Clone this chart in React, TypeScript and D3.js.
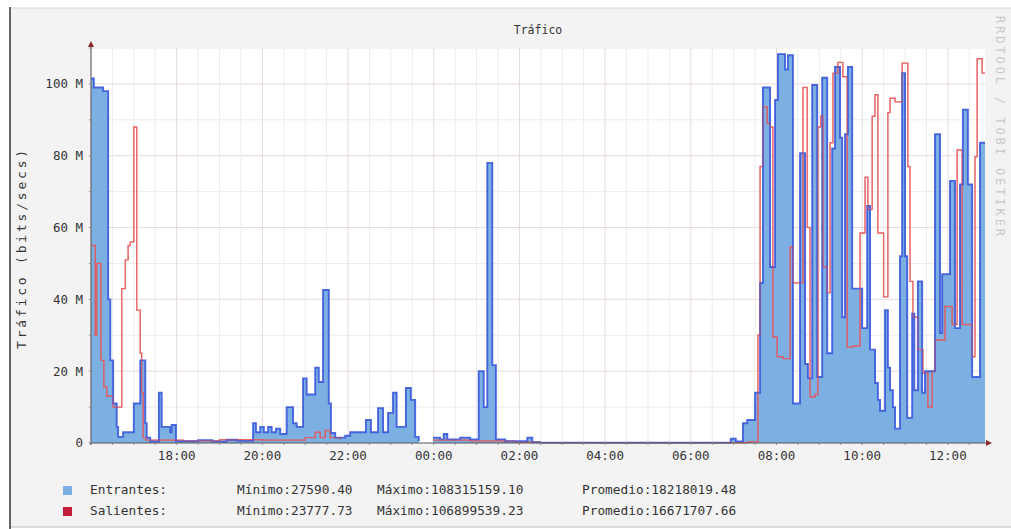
import React from "react";
import * as d3 from "d3";

// ---- data (time "HH:MM", value in Mbit/s); times before 16:00 belong to the next day ----
const startTime = "16:00";
const endTime = "12:52";

const entrantes: [string, number | null][] = [
  ["16:00", 101.5], ["16:04", 99], ["16:17", 98], ["16:24", 40], ["16:27", 23], ["16:31", 11],
  ["16:36", 4.5], ["16:38", 1.7], ["16:45", 3], ["17:00", 11], ["17:09", 23], ["17:16", 5.5],
  ["17:18", 1.5], ["17:23", 0.4], ["17:35", 14], ["17:39", 4.5], ["17:51", 3], ["17:53", 5],
  ["17:59", 0.5], ["18:30", 0.8], ["18:50", 0.4], ["19:10", 0.9], ["19:25", 0.6],
  ["19:47", 5.5], ["19:51", 3], ["19:57", 4.5], ["20:02", 3], ["20:08", 4.5], ["20:13", 3],
  ["20:19", 4], ["20:25", 2.5], ["20:34", 10], ["20:43", 5.5], ["20:48", 4.5], ["20:57", 18],
  ["21:02", 13.5], ["21:14", 21], ["21:19", 17], ["21:25", 42.6], ["21:33", 11], ["21:36", 2.8],
  ["21:42", 1.5], ["21:56", 2], ["22:03", 3], ["22:25", 6.4], ["22:32", 3], ["22:42", 9.7],
  ["22:49", 3], ["22:56", 8.4], ["23:03", 14], ["23:08", 4.5], ["23:21", 15.3], ["23:28", 12],
  ["23:34", 1.7], ["23:39", 0.5], ["23:42", null], ["23:59", 1.5], ["00:09", 1], ["00:14", 2.5],
  ["00:19", 1], ["00:37", 1.5], ["00:51", 1], ["01:03", 20], ["01:10", 10], ["01:15", 78],
  ["01:22", 21.7], ["01:27", 1], ["01:40", 0.5], ["02:11", 1.5], ["02:18", 0.2], ["02:29", 0.1],
  ["06:56", 1.2], ["07:03", 0.4], ["07:13", 5.5], ["07:19", 6.4], ["07:30", 14], ["07:37", 44.6],
  ["07:41", 99], ["07:51", 49], ["07:58", 95.5], ["08:02", 108.3], ["08:12", 104], ["08:16", 108],
  ["08:23", 11], ["08:33", 80.7], ["08:40", 22], ["08:44", 18], ["08:50", 99.7], ["08:57", 18.4],
  ["09:04", 101.7], ["09:11", 25], ["09:18", 82], ["09:22", 104.7], ["09:29", 85], ["09:32", 35],
  ["09:36", 86], ["09:40", 104.7], ["09:46", 43], ["10:00", 32], ["10:07", 66], ["10:11", 26],
  ["10:18", 16.7], ["10:22", 12], ["10:25", 9], ["10:32", 37], ["10:36", 21], ["10:39", 14.7],
  ["10:43", 10], ["10:46", 4], ["10:53", 52], ["10:56", 103], ["11:00", 52], ["11:03", 7],
  ["11:10", 36], ["11:13", 14.7], ["11:18", 45], ["11:24", 14], ["11:28", 20], ["11:42", 86],
  ["11:49", 30.6], ["11:52", 47], ["12:03", 73], ["12:10", 32], ["12:17", 72], ["12:21", 92.8],
  ["12:28", 72], ["12:34", 18.4], ["12:45", 83.6],
];

const salientes: [string, number | null][] = [
  ["16:00", 55], ["16:06", 30], ["16:08", 50], ["16:14", 23], ["16:18", 15.6], ["16:22", 13],
  ["16:31", 10], ["16:43", 43], ["16:48", 51], ["16:52", 55], ["16:55", 56], ["17:00", 88],
  ["17:04", 37], ["17:09", 25], ["17:11", 14], ["17:13", 1.5], ["17:17", 0.8], ["18:10", 0.6],
  ["19:00", 0.9], ["20:00", 0.8], ["21:00", 1.5], ["21:14", 3], ["21:21", 1.5], ["21:28", 3.5],
  ["21:35", 1.5], ["21:49", 1], ["23:42", null], ["23:59", 0.8], ["00:51", 0.6], ["01:40", 0.5],
  ["01:55", 0.2], ["02:29", 0.1], ["07:20", 0.3], ["07:34", 30], ["07:37", 77], ["07:41", 93.6],
  ["07:47", 89], ["07:51", 88], ["07:55", 29.5], ["08:01", 24], ["08:09", 23.5], ["08:19", 54.6],
  ["08:23", 44.6], ["08:37", 99], ["08:43", 60], ["08:47", 12.8], ["08:54", 13.5], ["08:58", 88],
  ["09:02", 91], ["09:05", 49], ["09:11", 41.8], ["09:15", 83.6], ["09:19", 103], ["09:26", 106],
  ["09:33", 102], ["09:39", 26.7], ["09:47", 27], ["09:57", 58.5], ["10:04", 74], ["10:08", 65],
  ["10:14", 91], ["10:18", 97], ["10:22", 58.5], ["10:30", 40.7], ["10:36", 92], ["10:39", 96],
  ["10:46", 95], ["10:56", 105.8], ["11:04", 77], ["11:07", 45], ["11:11", 35], ["11:18", 26],
  ["11:25", 19.5], ["11:32", 10], ["11:38", 20], ["11:42", 28.7], ["11:56", 38], ["12:06", 33],
  ["12:13", 81.6], ["12:20", 33], ["12:34", 24], ["12:38", 79.7], ["12:41", 107], ["12:48", 103],
];

const yTicks = [0, 20, 40, 60, 80, 100];
const yTickLabels = ["0", "20 M", "40 M", "60 M", "80 M", "100 M"];
const xTickLabels = ["18:00", "20:00", "22:00", "00:00", "02:00", "04:00", "06:00", "08:00", "10:00", "12:00"];

const legendRows = [
  { name: "Entrantes:", min: "Mínimo:27590.40", max: "Máximo:108315159.10", avg: "Promedio:18218019.48" },
  { name: "Salientes:", min: "Mínimo:23777.73", max: "Máximo:106899539.23", avg: "Promedio:16671707.66" },
];

const title = "Tráfico";
const yTitle = "Tráfico (bits/secs)";
const watermark = "RRDTOOL / TOBI OETIKER";

// ---- helpers ----
const parseT = (s: string): Date => {
  const [h, m] = s.split(":").map(Number);
  let mins = h * 60 + m;
  if (mins < 16 * 60) mins += 1440;
  return new Date(2024, 0, 1, 0, mins);
};

type Pt = { t: Date; v: number | null };
const toSeries = (arr: [string, number | null][]): Pt[] => {
  const pts = arr.map(([t, v]) => ({ t: parseT(t), v }));
  pts.push({ t: parseT(endTime), v: pts[pts.length - 1].v });
  return pts;
};

const MONO = "'DejaVu Sans Mono', monospace";

export default function App() {
  const W = 1011, H = 529;
  const left = 91, right = 985, top = 48, bottom = 443;
  const x = d3.scaleTime().domain([parseT(startTime), parseT(endTime)]).range([left, right]);
  const y = d3.scaleLinear().domain([0, 110]).range([bottom, top]);

  const inS = toSeries(entrantes);
  const outS = toSeries(salientes);

  const area = d3.area<Pt>()
    .defined((d) => d.v !== null)
    .x((d) => x(d.t))
    .y0(y(0))
    .y1((d) => y(d.v as number))
    .curve(d3.curveStepAfter);
  const line = d3.line<Pt>()
    .defined((d) => d.v !== null)
    .x((d) => x(d.t))
    .y((d) => y(d.v as number))
    .curve(d3.curveStepAfter);

  const minorX = d3.timeMinute.every(30)!.range(parseT(startTime), parseT(endTime));
  const majorX = xTickLabels.map(parseT);
  const minorY = d3.range(10, 111, 10);

  return (
    <svg width={W} height={H} style={{ position: "absolute", left: 0, top: 0, background: "#fff" }}>
      {/* frame */}
      <rect x={10} y={8} width={W - 10} height={519} fill="#f3f3f3" />
      <line x1={10} y1={8} x2={W} y2={8} stroke="#d8d8d8" />
      <line x1={10} y1={527} x2={W} y2={527} stroke="#bdbdbd" />
      <line x1={10} y1={7} x2={10} y2={H} stroke="#333" strokeWidth={1.5} />

      {/* plot background */}
      <rect x={left} y={top} width={right - left} height={bottom - top} fill="#ffffff" />

      {/* grid */}
      {minorY.map((v) => (
        <line key={"gy" + v} x1={left} x2={right} y1={y(v)} y2={y(v)}
          stroke={v % 20 === 0 ? "#ead9d9" : "#ececec"} strokeWidth={1} />
      ))}
      {minorX.map((t, i) => (
        <line key={"gx" + i} x1={x(t)} x2={x(t)} y1={top} y2={bottom}
          stroke={t.getMinutes() === 0 && t.getHours() % 2 === 0 ? "#e3dada" : "#ececec"} strokeWidth={1} />
      ))}

      {/* data */}
      <path d={area(inS) || ""} fill="#7cb0e2" />
      <path d={line(outS) || ""} fill="none" stroke="#e8585a" strokeWidth={1.4} strokeOpacity={0.85} />
      <path d={line(inS) || ""} fill="none" stroke="#3a58dc" strokeWidth={1.9} strokeOpacity={0.9} />
      <path d={line(outS) || ""} fill="none" stroke="#e8585a" strokeWidth={1} strokeOpacity={0.55} />

      {/* axes */}
      <line x1={left} x2={left} y1={bottom + 2} y2={top - 2} stroke="#555" strokeWidth={1} />
      <path d={`M${left - 3},${top - 1} L${left + 3},${top - 1} L${left},${top - 7} Z`} fill="#8a2a2a" />
      <line x1={left - 2} x2={right + 2} y1={bottom} y2={bottom} stroke="#555" strokeWidth={1} />
      <path d={`M${right + 1},${bottom - 3} L${right + 1},${bottom + 3} L${right + 7},${bottom} Z`} fill="#8a2a2a" />
      {minorX.map((t, i) => (
        <line key={"tx" + i} x1={x(t)} x2={x(t)} y1={bottom - 1} y2={bottom + 2} stroke="#888" />
      ))}
      {minorY.map((v) => (
        <line key={"ty" + v} x1={left - 2} x2={left + 1} y1={y(v)} y2={y(v)} stroke="#888" />
      ))}

      {/* y labels */}
      {yTicks.map((v, i) => (
        <text key={"yl" + v} x={83} y={y(v)} dy="0.35em" textAnchor="end"
          fontFamily={MONO} fontSize={12.5} fill="#333">{yTickLabels[i]}</text>
      ))}
      {/* x labels */}
      {majorX.map((t, i) => (
        <text key={"xl" + i} x={x(t)} y={460} textAnchor="middle"
          fontFamily={MONO} fontSize={12.5} fill="#333">{xTickLabels[i]}</text>
      ))}

      {/* titles */}
      <text x={(left + right) / 2} y={34} textAnchor="middle" fontFamily={MONO} fontSize={11.5} fill="#333">{title}</text>
      <text transform={`translate(26,248) rotate(-90)`} textAnchor="middle" fontFamily={MONO}
        fontSize={13} letterSpacing={2.8} fill="#333">{yTitle}</text>
      <text transform={`translate(996,16) rotate(90)`} textAnchor="start" fontFamily={MONO}
        fontSize={12} textLength={220} fill="#c9c9c9">{watermark}</text>

      {/* legend */}
      {legendRows.map((r, i) => {
        const by = 494 + i * 21;
        return (
          <g key={"lg" + i}>
            <rect x={63} y={by - 8} width={9} height={9} fill={i === 0 ? "#7cb0e2" : "#c41e3a"} />
            <text x={90} y={by} fontFamily={MONO} fontSize={12.8} fill="#333">{r.name}</text>
            <text x={237} y={by} fontFamily={MONO} fontSize={12.8} fill="#333">{r.min}</text>
            <text x={377} y={by} fontFamily={MONO} fontSize={12.8} fill="#333">{r.max}</text>
            <text x={582} y={by} fontFamily={MONO} fontSize={12.8} fill="#333">{r.avg}</text>
          </g>
        );
      })}
    </svg>
  );
}
